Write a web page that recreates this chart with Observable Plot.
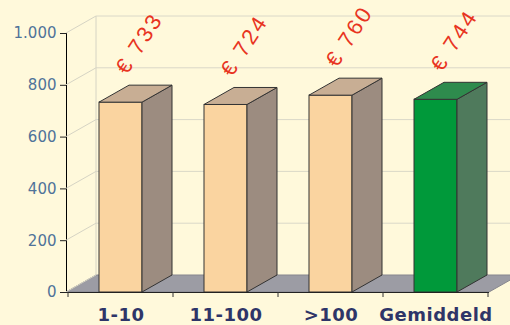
<!DOCTYPE html>
<html>
<head>
<meta charset="utf-8">
<script src="https://cdn.jsdelivr.net/npm/d3@7"></script>
<script src="https://cdn.jsdelivr.net/npm/@observablehq/plot@0.6"></script>
<style>
  html, body { margin: 0; padding: 0; background: #FFF9DB; }
  #chart svg [aria-label^="y-axis"] text { fill: #4F7399; font: 15px "DejaVu Sans", sans-serif; }
  #chart svg [aria-label^="y-axis"] line, #chart svg [aria-label^="y-axis"] path { stroke: #222; }
  #chart svg [aria-label^="x-axis"] text { fill: #2E3568; font: bold 18px "DejaVu Sans", sans-serif; letter-spacing: 0.5px; }
  #chart svg g[aria-label="value-labels"] text, #chart svg g[aria-label="text"] text { letter-spacing: 2.5px; }
</style>
</head>
<body>
<div id="chart"></div>
<script>
// ---- data ----
const categories = ["1-10", "11-100", ">100", "Gemiddeld"];
const values = [733, 724, 760, 744];
const valueLabels = ["€ 733", "€ 724", "€ 760", "€ 744"];
const yTicks = [0, 200, 400, 600, 800, 1000];
const highlight = "Gemiddeld";

const data = categories.map((c, i) => ({cat: c, value: values[i], label: valueLabels[i]}));

// ---- style constants ----
const DX = 30, DY = -17;        // 3D depth offset (px)
const INSET = 31;               // bar inset within its band
const colors = {
  normal: {front: "#FAD4A0", side: "#9C8C80", top: "#C8AE94"},
  avg:    {front: "#00993A", side: "#4F7A5C", top: "#2E8B4D"}
};
const nl = d3.formatLocale({decimal: ",", thousands: ".", grouping: [3], currency: ["€ ", ""]});
const fmt = nl.format(",d");

// back wall, grid and floor
function backdrop(index, scales, values, dims) {
  const {x, y} = scales;
  const x0 = dims.marginLeft, x1 = dims.width - dims.marginRight;
  const y0 = y(0);
  const g = d3.create("svg:g");
  g.append("polygon")
    .attr("points", [[x0, y0], [x0 + DX, y0 + DY], [x1 + DX, y0 + DY], [x1, y0]].join(" "))
    .attr("fill", "#9C9CA4").attr("stroke", "#85858d");
  for (const v of yTicks) {
    const yy = y(v);
    g.append("line").attr("x1", x0).attr("y1", yy).attr("x2", x0 + DX).attr("y2", yy + DY)
      .attr("stroke", "#D6D4C4");
    if (v > 0) g.append("line").attr("x1", x0 + DX).attr("y1", yy + DY).attr("x2", dims.width).attr("y2", yy + DY)
      .attr("stroke", "#DAD8C8");
  }
  g.append("line").attr("x1", x0 + DX).attr("y1", y0 + DY).attr("x2", x0 + DX).attr("y2", y(yTicks[yTicks.length - 1]) + DY)
    .attr("stroke", "#D6D4C4");
  return g.node();
}

// band-edge ticks on the x axis
function edgeTicks(index, scales, values, dims) {
  const {x, y} = scales;
  const y0 = y(0);
  const g = d3.create("svg:g");
  const edges = categories.map(c => x(c)).concat([x(categories[categories.length - 1]) + x.bandwidth()]);
  for (const e of edges) {
    g.append("line").attr("x1", e).attr("x2", e).attr("y1", y0).attr("y2", y0 + 5).attr("stroke", "#333");
  }
  return g.node();
}

// side and top faces of each bar
function barDepth(index, scales, values, dims) {
  const {x, y} = scales;
  const g = d3.create("svg:g");
  for (const d of data) {
    const c = d.cat === highlight ? colors.avg : colors.normal;
    const xl = x(d.cat) + INSET, xr = x(d.cat) + x.bandwidth() - INSET;
    const yt = y(d.value), yb = y(0);
    g.append("polygon")
      .attr("points", [[xr, yb], [xr + DX, yb + DY], [xr + DX, yt + DY], [xr, yt]].join(" "))
      .attr("fill", c.side).attr("stroke", "#333").attr("stroke-width", 1).attr("stroke-linejoin", "round");
    g.append("polygon")
      .attr("points", [[xl, yt], [xr, yt], [xr + DX, yt + DY], [xl + DX, yt + DY]].join(" "))
      .attr("fill", c.top).attr("stroke", "#333").attr("stroke-width", 1).attr("stroke-linejoin", "round");
  }
  return g.node();
}

const chart = Plot.plot({
  width: 510,
  height: 325,
  marginLeft: 66,
  marginRight: 21,
  marginTop: 33,
  marginBottom: 33,
  style: {background: "#FFF9DB", overflow: "visible"},
  x: {domain: categories, padding: 0, label: null, tickSize: 0, tickPadding: 16},
  y: {domain: [0, 1000], ticks: yTicks, tickFormat: fmt, label: null, tickSize: 6, tickPadding: 4, line: true},
  marks: [
    backdrop,
    Plot.barY(data.filter(d => d.cat !== highlight), {x: "cat", y: "value", fill: colors.normal.front, stroke: "#333", strokeWidth: 1, insetLeft: INSET, insetRight: INSET}),
    Plot.barY(data.filter(d => d.cat === highlight), {x: "cat", y: "value", fill: colors.avg.front, stroke: "#333", strokeWidth: 1, insetLeft: INSET, insetRight: INSET}),
    barDepth,
    Plot.ruleY([0], {stroke: "#222"}),
    edgeTicks,
    Plot.text(data, {x: "cat", y: "value", text: "label", rotate: -57, textAnchor: "start", dx: 0, dy: -31,
      fill: "#E8341F", fontSize: 22, fontFamily: "Liberation Sans, Arial, sans-serif", ariaLabel: "value-labels"})
  ]
});
document.getElementById("chart").appendChild(chart);
</script>
</body>
</html>
